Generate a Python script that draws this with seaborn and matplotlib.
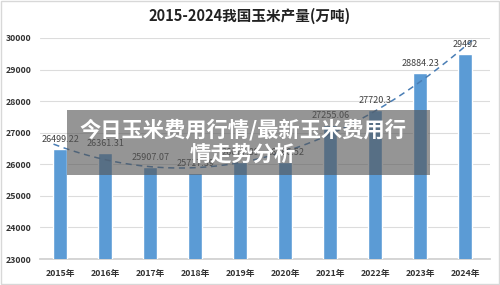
import numpy as np
import pandas as pd
import matplotlib
matplotlib.use("Agg")
import matplotlib.pyplot as plt
import seaborn as sns
from matplotlib.patches import Rectangle

years = ["2015年", "2016年", "2017年", "2018年", "2019年", "2020年", "2021年", "2022年", "2023年", "2024年"]
production = [26499.22, 26361.31, 25907.07, 25717.39, 26077.89, 26066.52, 27255.06, 27720.3, 28884.23, 29492]
value_labels = ["26499.22", "26361.31", "25907.07", "25717.39", "26077.89", "26066.52", "27255.06", "27720.3", "28884.23", "29492"]
yticks = [23000, 24000, 25000, 26000, 27000, 28000, 29000, 30000]
title = "2015-2024我国玉米产量(万吨)"
overlay = "今日玉米费用行情/最新玉米费用行\n情走势分析"

sns.set_theme(style="white")
plt.rcParams['font.family'] = ['Noto Sans CJK SC', 'DejaVu Sans']

df = pd.DataFrame({"year": years, "value": production})

fig = plt.figure(figsize=(5, 2.85), dpi=100)
ax = fig.add_axes([0.08, 0.0912, 0.90, 0.7755])

sns.barplot(data=df, x="year", y="value", color="#5B9BD5", width=0.31,
            saturation=1, ax=ax, zorder=3)

ax.set_ylim(23000, 30000)
ax.set_yticks(yticks)
ax.set_yticklabels([str(t) for t in yticks], fontsize=6.3, fontweight="bold", color="#333333")
ax.set_xlim(-0.45, 9.55)
ax.tick_params(axis="x", labelsize=6.3, colors="#333333", length=0, pad=7)
ax.tick_params(axis="y", length=0, pad=6)
for lab in ax.get_xticklabels():
    lab.set_fontweight("bold")
ax.set_xlabel("")
ax.set_ylabel("")
ax.grid(axis="y", color="#dcdcdc", linewidth=0.8, zorder=0)
for s in ["top", "right", "left"]:
    ax.spines[s].set_visible(False)
ax.spines["bottom"].set_color("#d0d0d0")

for i, (v, t) in enumerate(zip(production, value_labels)):
    ax.text(i, v + 150, t, ha="center", va="bottom", fontsize=6.5, color="#404040", zorder=5)

# polynomial trend line (derived from data)
xi = np.arange(len(production))
coef = np.polyfit(xi, production, 2)
xx = np.linspace(-0.15, 9.5, 200)
ax.plot(xx, np.polyval(coef, xx), linestyle=(0, (4, 3)), color="#4A7EB5", linewidth=1.1, zorder=4)

fig.text(0.5, 0.945, title, ha="center", va="center", fontsize=10.5, fontweight="bold", color="#222222")

# overlay box
fig.patches.append(Rectangle((67/500, 1-175/285), (430-67)/500, 65/285, transform=fig.transFigure,
                             facecolor="#555555", alpha=0.62, edgecolor="none", zorder=10))
fig.text(0.486, 1-142/285, overlay, ha="center", va="center", fontsize=15.3, fontweight="bold",
         color="white", linespacing=1.2, zorder=11)

fig.patches.append(Rectangle((0.002, 0.003), 0.996, 0.994, transform=fig.transFigure,
                             facecolor="none", edgecolor="#d8d8d8", linewidth=1, zorder=0))

fig.savefig("out.png", dpi=100)
